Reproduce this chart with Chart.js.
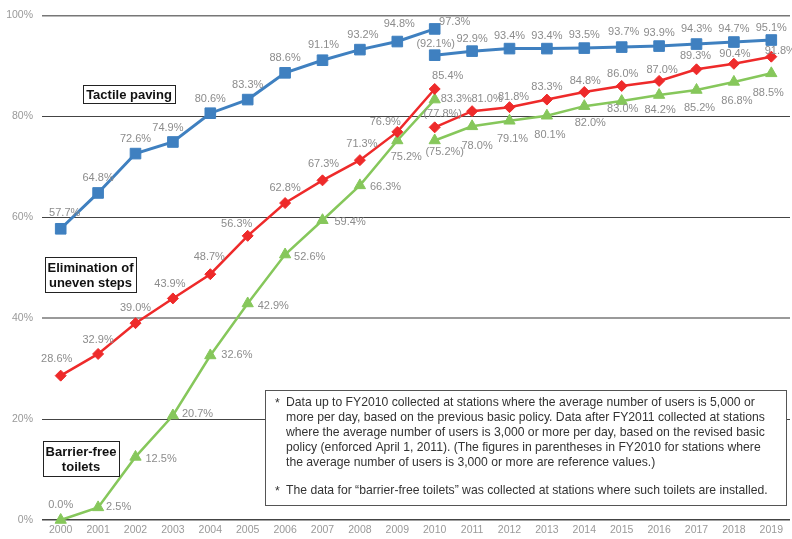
<!DOCTYPE html>
<html>
<head>
<meta charset="utf-8">
<script src="https://cdn.jsdelivr.net/npm/chart.js@4/dist/chart.umd.min.js"></script>
<style>
  html, body { margin: 0; padding: 0; background: #fff; }
  canvas { display: block; }
</style>
</head>
<body>
<canvas id="chart" width="792" height="539"></canvas>
<script>
// Fiscal years on the horizontal axis
const years = ['2000','2001','2002','2003','2004','2005','2006','2007','2008','2009',
               '2010','2011','2012','2013','2014','2015','2016','2017','2018','2019'];

// Previous basic policy (FY2000–FY2010, stations with 5,000+ users/day)
const tactileOld = [57.7, 64.8, 72.6, 74.9, 80.6, 83.3, 88.6, 91.1, 93.2, 94.8, 97.3];
const stepsOld   = [28.6, 32.9, 39.0, 43.9, 48.7, 56.3, 62.8, 67.3, 71.3, 76.9, 85.4];
const toiletsOld = [0.0, 2.5, 12.5, 20.7, 32.6, 42.9, 52.6, 59.4, 66.3, 75.2, 83.3];

// Revised basic policy (FY2010 reference value, then FY2011–FY2019, stations with 3,000+ users/day)
const tactileNew = [92.1, 92.9, 93.4, 93.4, 93.5, 93.7, 93.9, 94.3, 94.7, 95.1];
const stepsNew   = [77.8, 81.0, 81.8, 83.3, 84.8, 86.0, 87.0, 89.3, 90.4, 91.8];
const toiletsNew = [75.2, 78.0, 79.1, 80.1, 82.0, 83.0, 84.2, 85.2, 86.8, 88.5];

const yTicks = [0, 20, 40, 60, 80, 100];

// Where each value label sits relative to its point: [dx, dy, align]
const tactileOldPos = [[4,-16,'c'],[0,-15,'c'],[0,-15,'c'],[-5,-14,'c'],[0,-14,'c'],[0,-15,'c'],[0,-15,'c'],[1,-15,'c'],[3,-15,'c'],[2,-18,'c'],[20,-7,'c']];
const tactileNewPos = [[1,-11,'c'],[0,-12,'c'],[0,-13,'c'],[0,-13,'c'],[0,-13,'c'],[2,-15,'c'],[0,-13,'c'],[0,-15,'c'],[0,-13,'c'],[0,-12,'c']];
const stepsOldPos   = [[-4,-17,'c'],[0,-14,'c'],[0,-15,'c'],[-3,-14,'c'],[-1,-17,'c'],[-11,-12,'c'],[0,-15,'c'],[1,-16,'c'],[2,-16,'c'],[-12,-10,'c'],[13,-13,'c']];
const stepsNewPos   = [[8,-13,'c'],[15,-12,'c'],[4,-10,'c'],[0,-13,'c'],[1,-11,'c'],[1,-12,'c'],[3,-11,'c'],[-1,-13,'c'],[1,-10,'c'],[9,-6,'c']];
const toiletsOldPos = [[0,-15,'c'],[8,0,'l'],[10,2,'l'],[9,-2,'l'],[11,0,'l'],[10,2,'l'],[9,2,'l'],[12,2,'l'],[10,2,'l'],[9,17,'c'],[6,-1,'l']];
const toiletsNewPos = [[10,12,'c'],[5,20,'c'],[3,18,'c'],[3,19,'c'],[6,17,'c'],[1,8,'c'],[1,15,'c'],[3,18,'c'],[3,19,'c'],[-3,20,'c']];

const BLUE = '#3f80c0';
const RED = '#ee2a2a';
const GREEN = '#86c75b';
const LABEL_GREY = '#8c8c8c';
const FONT = '"Liberation Sans", Arial, sans-serif';

// Old-policy series occupy 2000–2010, new-policy series occupy 2010–2019
const early = arr => years.map((_, i) => i < arr.length ? arr[i] : null);
const late = arr => years.map((_, i) => i >= 10 ? arr[i - 10] : null);

function series(data, color, style, radius, width, pos, paren) {
  return {
    data, borderColor: color, backgroundColor: color,
    pointBackgroundColor: color, pointBorderColor: color, pointBorderWidth: 1,
    pointStyle: style, pointRadius: radius, pointHoverRadius: radius,
    borderWidth: width, tension: 0, spanGaps: false, clip: false,
    labelPos: pos, parenFirst: paren
  };
}

const datasets = [
  series(early(tactileOld), BLUE, 'rect', 7.5, 3, tactileOldPos, false),
  series(late(tactileNew), BLUE, 'rect', 7.5, 3, tactileNewPos, true),
  series(early(stepsOld), RED, 'rectRot', 5.5, 2.5, stepsOldPos, false),
  series(late(stepsNew), RED, 'rectRot', 5.5, 2.5, stepsNewPos, true),
  series(early(toiletsOld), GREEN, 'triangle', 6.5, 2.5, toiletsOldPos, false),
  series(late(toiletsNew), GREEN, 'triangle', 6.5, 2.5, toiletsNewPos, true)
];

// Year labels under the plot, placed by the category scale
const yearLabels = {
  id: 'yearLabels',
  afterDraw(chart) {
    const ctx = chart.ctx;
    const xs = chart.scales.x;
    ctx.save();
    ctx.font = '10.5px ' + FONT;
    ctx.fillStyle = '#999';
    ctx.textAlign = 'center';
    ctx.textBaseline = 'middle';
    years.forEach((y, i) => ctx.fillText(y, xs.getPixelForValue(i), chart.chartArea.bottom + 10));
    ctx.restore();
  }
};

// Value labels next to every point
const valueLabels = {
  id: 'valueLabels',
  afterDatasetsDraw(chart) {
    const ctx = chart.ctx;
    ctx.save();
    ctx.font = '11px ' + FONT;
    ctx.fillStyle = LABEL_GREY;
    ctx.textBaseline = 'middle';
    chart.data.datasets.forEach((ds, di) => {
      const meta = chart.getDatasetMeta(di);
      let k = 0;
      ds.data.forEach((v, i) => {
        if (v === null) return;
        const pt = meta.data[i];
        const [dx, dy, al] = ds.labelPos[k];
        let txt = v.toFixed(1) + '%';
        if (ds.parenFirst && k === 0) txt = '(' + txt + ')';
        ctx.textAlign = al === 'l' ? 'left' : 'center';
        ctx.fillText(txt, pt.x + dx, pt.y + dy);
        k++;
      });
    });
    ctx.restore();
  }
};

// Series name boxes and the footnote box
const annotations = {
  id: 'annotations',
  afterDraw(chart) {
    const ctx = chart.ctx;
    ctx.save();
    function nameBox(x, y, w, h, lines) {
      ctx.fillStyle = '#fff';
      ctx.fillRect(x, y, w, h);
      ctx.strokeStyle = '#222';
      ctx.lineWidth = 1;
      ctx.strokeRect(x + 0.5, y + 0.5, w, h);
      ctx.fillStyle = '#111';
      ctx.font = 'bold 13px ' + FONT;
      ctx.textAlign = 'center';
      ctx.textBaseline = 'middle';
      const lh = 15;
      const y0 = y + h / 2 - (lines.length - 1) * lh / 2 + 1;
      lines.forEach((t, i) => ctx.fillText(t, x + w / 2, y0 + i * lh));
    }
    nameBox(83, 85, 92, 18, ['Tactile paving']);
    nameBox(45, 257, 91, 35, ['Elimination of', 'uneven steps']);
    nameBox(43, 441, 76, 35, ['Barrier-free', 'toilets']);

    // Footnote
    const bx = 265, by = 390, bw = 521, bh = 115;
    ctx.fillStyle = '#fff';
    ctx.fillRect(bx, by, bw, bh);
    ctx.strokeStyle = '#555';
    ctx.lineWidth = 1;
    ctx.strokeRect(bx + 0.5, by + 0.5, bw, bh);
    ctx.fillStyle = '#333';
    ctx.font = '12.2px ' + FONT;
    ctx.textAlign = 'left';
    ctx.textBaseline = 'middle';
    const note1 = [
      'Data up to FY2010 collected at stations where the average number of users is 5,000 or',
      'more per day, based on the previous basic policy. Data after FY2011 collected at stations',
      'where the average number of users is 3,000 or more per day, based on the revised basic',
      'policy (enforced April 1, 2011). (The figures in parentheses in FY2010 for stations where',
      'the average number of users is 3,000 or more are reference values.)'
    ];
    const note2 = 'The data for \u201Cbarrier-free toilets\u201D was collected at stations where such toilets are installed.';
    ctx.fillText('*', 275, 404);
    note1.forEach((t, i) => ctx.fillText(t, 286, 403 + i * 14.8));
    ctx.fillText('*', 275, 492);
    ctx.fillText(note2, 286, 491);
    ctx.restore();
  }
};

function gridColor(v) {
  if (v === 40) return '#9a9a9a';
  if (v === 100) return '#777';
  return '#444';
}
function gridWidth(v) {
  if (v === 40) return 2;
  if (v === 0 || v === 100) return 1.5;
  return 1;
}

new Chart(document.getElementById('chart'), {
  type: 'line',
  data: { labels: years, datasets },
  options: {
    responsive: false,
    animation: false,
    devicePixelRatio: 1,
    layout: { autoPadding: false, padding: { top: 13, right: 2, left: 0, bottom: 19 } },
    plugins: { legend: { display: false }, tooltip: { enabled: false } },
    scales: {
      x: {
        type: 'category',
        offset: true,
        grid: { display: false, drawTicks: false },
        border: { display: false },
        ticks: { display: false }
      },
      y: {
        min: 0, max: 100,
        afterBuildTicks: s => { s.ticks = yTicks.map(v => ({ value: v })); },
        grid: {
          drawTicks: false,
          color: c => gridColor(c.tick.value),
          lineWidth: c => gridWidth(c.tick.value)
        },
        border: { display: false },
        ticks: { color: '#999', font: { size: 10.5, family: FONT }, padding: 9, callback: v => v + '%' },
        afterFit: s => { s.width = 42; }
      }
    }
  },
  plugins: [valueLabels, annotations, yearLabels]
});
</script>
</body>
</html>
